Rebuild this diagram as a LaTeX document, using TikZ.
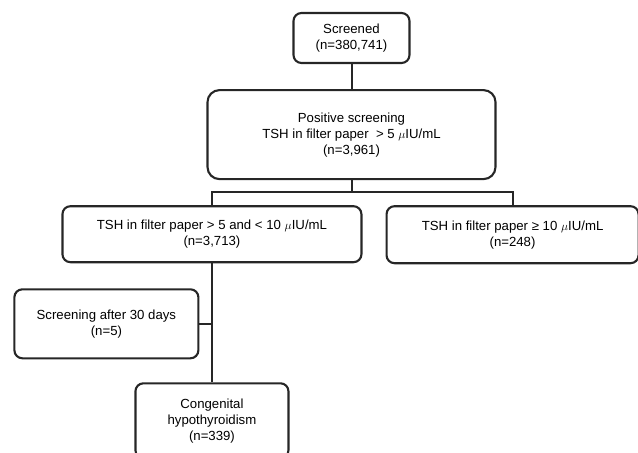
\documentclass[tikz,border=0pt]{standalone}
\usepackage{amsmath,amssymb}
\usepackage{fontspec}
\setmainfont{Liberation Sans}
\usepackage{tikz}
\usetikzlibrary{arrows,backgrounds,fit,positioning}

\begin{document}
\begin{tikzpicture}
    [x=1pt, y=-1pt, font=\fontsize{13.2}{16}\selectfont,
    % STYLES
    every node/.style={align=center},
    % The stage style is used to draw each box of the flow
    stage/.style={rectangle, draw=black!85, line width=2.1pt, rounded corners=8pt, inner sep=4pt},
    % The link style is used to draw the lines between the boxes
    link/.style={draw=black!85, line width=2pt}]

    \useasboundingbox (0,0) rectangle (638,453);

    % Draw stages
    \node [stage, minimum width=116pt, minimum height=50pt] (screened) at (351.5,38) {
    Screened\\
    (n=380,741)
    };
    \node [stage, rounded corners=12pt, minimum width=288pt, minimum height=89pt, below=25pt of screened] (positive) {
    Positive screening\\
    TSH in filter paper\ \ > 5 $\mu$IU/mL\\
    (n=3,961)
    };
    \node [stage, minimum width=299pt, minimum height=56pt, below=25pt of positive.south west, xshift=5.5pt] (low) {
    TSH in filter paper > 5 and < 10 $\mu$IU/mL\\
    (n=3,713)
    };
    \node [stage, minimum width=252pt, minimum height=57pt, below=25pt of positive.south east, xshift=16pt] (high) {
    TSH in filter paper ≥ 10 $\mu$IU/mL\\
    (n=248)
    };
    \node [stage, minimum width=184pt, minimum height=69pt, below=25pt of low.south west, xshift=45pt] (later) {
    Screening after 30 days\\
    (n=5)
    };
    \node [stage, minimum width=153pt, minimum height=75pt, below=119pt of low] (ch) {
    Congenital\\
    hypothyroidism\\
    (n=339)
    };

    \coordinate [below=12pt of positive.south] (split);

    \draw[link] (screened) -- (positive);
    \draw[link] (positive) -- (split);
    \draw[link] (split) -| (low.north);
    \draw[link] (split) -| (high.north);
    \draw[link] (low) -- (ch);
    \draw[link] (later.east) -- (later.east -| low.south);
\end{tikzpicture}
\end{document}
